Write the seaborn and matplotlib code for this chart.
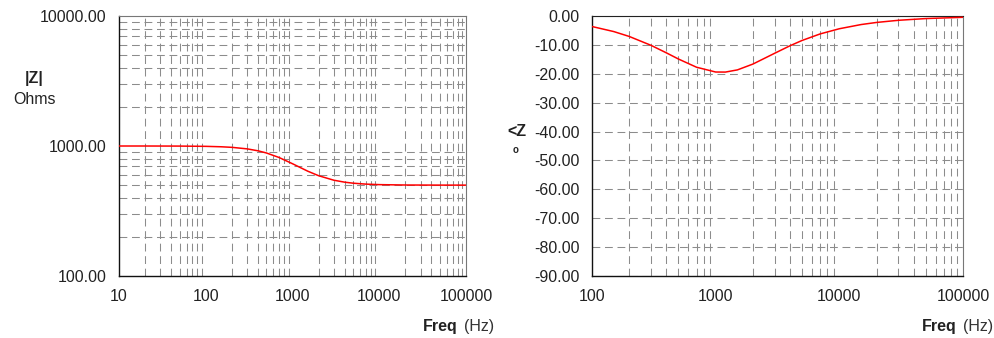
import matplotlib
matplotlib.use("Agg")
import matplotlib.pyplot as plt
import matplotlib.ticker as mticker
import seaborn as sns
import pandas as pd

# |Z| magnitude data (Ohms)
mag_freq = [10, 20, 50, 100, 150, 200, 300, 400, 500, 700, 1000, 1500, 2000,
            3000, 4000, 5000, 7000, 10000, 20000, 50000, 100000]
mag_ohms = [999.9, 999.8, 998.5, 993.9, 986.5, 976.6, 950.5, 918.6, 884.1, 815.7,
            730.5, 640.0, 590.8, 545.4, 526.8, 517.5, 509.1, 504.5, 501.1, 500.2, 500.05]

# phase data (degrees)
ph_freq = [100, 150, 200, 300, 400, 500, 700, 1000, 1200, 1500, 2000, 3000, 4000,
           5000, 7000, 10000, 15000, 20000, 30000, 50000, 100000]
ph_deg = [-3.64, -5.39, -7.08, -10.15, -12.77, -14.89, -17.73, -19.39, -19.41, -18.65,
          -16.64, -12.90, -10.28, -8.46, -6.20, -4.41, -2.96, -2.23, -1.49, -0.89, -0.45]

mag_yticks = [100, 1000, 10000]
mag_xticks = [10, 100, 1000, 10000, 100000]
ph_yticks = [0, -10, -20, -30, -40, -50, -60, -70, -80, -90]
ph_xticks = [100, 1000, 10000, 100000]

sns.set_style("white")
plt.rcParams['font.family'] = ['Liberation Sans', 'DejaVu Sans']

fig = plt.figure(figsize=(9.94, 3.38), dpi=100)
W, H = 994, 338
axL = fig.add_axes([119 / W, 1 - 276 / H, (466 - 119) / W, (276 - 16) / H])
axR = fig.add_axes([592 / W, 1 - 276 / H, (963 - 592) / W, (276 - 16) / H])

df_mag = pd.DataFrame({"f": mag_freq, "z": mag_ohms})
df_ph = pd.DataFrame({"f": ph_freq, "p": ph_deg})

sns.lineplot(data=df_mag, x="f", y="z", ax=axL, color="red", linewidth=1.1, zorder=5)
sns.lineplot(data=df_ph, x="f", y="p", ax=axR, color="red", linewidth=1.1, zorder=5)

grid_kw = dict(color="#8c8c8c", linewidth=0.75, linestyle=(0, (7.5, 4.5)))
tick_color = "#222222"
TICK_FS = 11.5

for ax in (axL, axR):
    ax.set_xscale("log")
    ax.set_xlabel("")
    ax.set_ylabel("")
    ax.xaxis.set_minor_locator(mticker.LogLocator(base=10, subs=range(2, 10)))
    ax.xaxis.set_minor_formatter(mticker.NullFormatter())
    ax.grid(False)
    ax.grid(True, which="minor", axis="x", **grid_kw)
    for s in ("left", "bottom"):
        ax.spines[s].set_color("#111111")
        ax.spines[s].set_linewidth(1.0)
    for s in ("top", "right"):
        ax.spines[s].set_color("#777777")
        ax.spines[s].set_linewidth(0.8)
    ax.tick_params(axis="x", which="major", direction="inout", length=9, width=1,
                   colors="#111111", labelcolor=tick_color, labelsize=TICK_FS, pad=5)
    ax.tick_params(axis="y", which="major", direction="out", length=6, width=1,
                   colors="#111111", labelcolor=tick_color, labelsize=TICK_FS, pad=3)
    ax.tick_params(which="minor", length=0)
    ax.xaxis.set_major_formatter(mticker.FuncFormatter(lambda v, p: f"{v:.0f}"))

# left: magnitude
axL.set_yscale("log")
axL.set_xlim(10, 100000)
axL.set_ylim(100, 10000)
axL.set_xticks(mag_xticks)
axL.set_yticks(mag_yticks)
axL.yaxis.set_minor_locator(mticker.LogLocator(base=10, subs=range(2, 10)))
axL.yaxis.set_minor_formatter(mticker.NullFormatter())
axL.yaxis.set_major_formatter(mticker.FuncFormatter(lambda v, p: f"{v:.2f}"))
axL.grid(True, which="minor", axis="y", **grid_kw)

# right: phase
axR.set_xlim(100, 100000)
axR.set_ylim(-90, 0)
axR.set_xticks(ph_xticks)
axR.set_yticks(ph_yticks)
axR.yaxis.set_major_formatter(mticker.FuncFormatter(lambda v, p: f"{v:.2f}"))
axR.grid(True, which="major", axis="y", **grid_kw)
axR.spines["top"].set_color("#222222")

# axis labels as figure text
fig.text(34 / W, 1 - 79 / H, "|Z|", ha="center", va="center", fontsize=11.5,
         fontweight="bold", color=tick_color)
fig.text(34 / W, 1 - 100 / H, "Ohms", ha="center", va="center", fontsize=11.5,
         color=tick_color)
fig.text(517 / W, 1 - 132 / H, "<Z", ha="center", va="center", fontsize=11.5,
         fontweight="bold", color=tick_color)
fig.text(516 / W, 1 - 150 / H, "o", ha="center", va="center", fontsize=7,
         fontweight="bold", color=tick_color)

for xr in (494, 993):
    fig.text(xr / W, 1 - 326 / H, "(Hz)", ha="right", va="center",
             fontsize=11.5, color="#333333")
    fig.text((xr - 36) / W, 1 - 326 / H, "Freq", ha="right", va="center",
             fontsize=11.5, fontweight="bold", color=tick_color)

fig.savefig("out.png", dpi=100)
